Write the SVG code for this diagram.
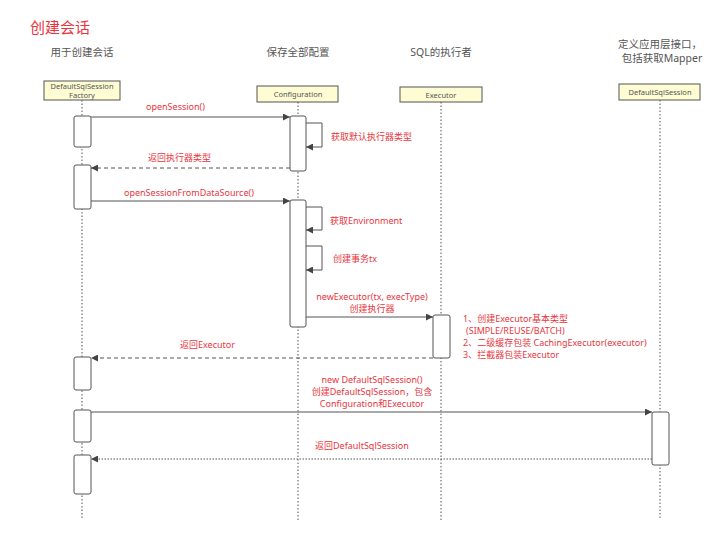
<svg xmlns="http://www.w3.org/2000/svg" width="720" height="539" viewBox="0 0 720 539">
<defs>
<style>
.bg{fill:#ffffff}
.title{font-family:"Noto Sans","Noto Sans CJK SC",sans-serif;font-size:15px;fill:#e8353d}
.role{font-family:"Noto Sans","Noto Sans CJK SC",sans-serif;font-size:10.5px;fill:#555}
.head{fill:#fdfcd2;stroke:#555;stroke-width:1}
.htext{font-family:"Noto Sans","Noto Sans CJK SC",sans-serif;font-size:7.5px;fill:#555;text-anchor:middle}
.life{stroke:#555;stroke-width:1;stroke-dasharray:1.5,2;fill:none}
.act{fill:#fff;stroke:#555;stroke-width:1}
.msg{stroke:#555;stroke-width:1;fill:none;marker-end:url(#ah)}
.dash{stroke:#555;stroke-width:1;fill:none;stroke-dasharray:4,3;marker-end:url(#ah)}
.dot{stroke:#555;stroke-width:1;fill:none;stroke-dasharray:1.5,1.5;marker-end:url(#ah)}
.lbl{font-family:"Noto Sans","Noto Sans CJK SC",sans-serif;font-size:9px;fill:#e8353d}
.c{text-anchor:middle}
</style>
<marker id="ah" viewBox="0 0 10 10" refX="10" refY="5" markerWidth="9" markerHeight="7" markerUnits="userSpaceOnUse" orient="auto">
<path d="M0,0 L10,5 L0,10 z" fill="#444"/>
</marker>
</defs>
<rect class="bg" x="0" y="0" width="720" height="539"/>
<text class="title" x="30" y="33">创建会话</text>
<text class="role c" x="82" y="56">用于创建会话</text>
<text class="role c" x="298" y="56">保存全部配置</text>
<text class="role c" x="441" y="56">SQL的执行者</text>
<text class="role c" x="660" y="48">定义应用层接口，</text>
<text class="role c" x="662" y="62">包括获取Mapper</text>

<g id="lifelines">
<line class="life" x1="82" y1="100" x2="82" y2="520"/>
<line class="life" x1="298" y1="102" x2="298" y2="520"/>
<line class="life" x1="441" y1="102" x2="441" y2="520"/>
<line class="life" x1="660" y1="100" x2="660" y2="520"/>
</g>

<g id="factory">
<rect class="head" x="44" y="81" width="76" height="19"/>
<text class="htext" x="82" y="89">DefaultSqlSession</text>
<text class="htext" x="82" y="98">Factory</text>
<rect class="act" x="74" y="116" width="17" height="31" rx="2"/>
<rect class="act" x="74" y="165" width="17" height="44" rx="2"/>
<rect class="act" x="74" y="357" width="17" height="33" rx="2"/>
<rect class="act" x="74" y="410" width="17" height="32" rx="2"/>
<rect class="act" x="74" y="455" width="17" height="39" rx="2"/>
</g>

<g id="configuration">
<rect class="head" x="257" y="86" width="81" height="16"/>
<text class="htext" x="298" y="97">Configuration</text>
<rect class="act" x="290" y="116" width="16" height="55" rx="2"/>
<rect class="act" x="290" y="200" width="16" height="127" rx="2"/>
</g>

<g id="executor">
<rect class="head" x="400" y="87" width="82" height="15"/>
<text class="htext" x="441" y="97.5">Executor</text>
<rect class="act" x="433" y="315" width="17" height="43" rx="2"/>
</g>

<g id="defaultsqlsession">
<rect class="head" x="619" y="84" width="81" height="16"/>
<text class="htext" x="660" y="94.5">DefaultSqlSession</text>
<rect class="act" x="652" y="412" width="17" height="53" rx="2"/>
</g>

<g id="connectors">
<line class="msg" x1="91" y1="117" x2="290" y2="117"/>
<polyline class="msg" points="306,123 322,123 322,147 306,147"/>
<line class="dash" x1="290" y1="168" x2="91" y2="168"/>
<line class="msg" x1="91" y1="201" x2="290" y2="201"/>
<polyline class="msg" points="306,207 322,207 322,230 306,230"/>
<polyline class="msg" points="306,246 322,246 322,270 306,270"/>
<line class="msg" x1="306" y1="317" x2="433" y2="317"/>
<line class="dash" x1="433" y1="358" x2="91" y2="358"/>
<line class="msg" x1="91" y1="412" x2="652" y2="412"/>
<line class="dot" x1="652" y1="459" x2="91" y2="459"/>
</g>

<g id="labels">
<text class="lbl" x="146" y="110">openSession()</text>
<text class="lbl" x="331" y="140">获取默认执行器类型</text>
<text class="lbl" x="148" y="161">返回执行器类型</text>
<text class="lbl" x="124" y="196">openSessionFromDataSource()</text>
<text class="lbl" x="330" y="224">获取Environment</text>
<text class="lbl" x="333" y="262">创建事务tx</text>
<text class="lbl c" x="372" y="300">newExecutor(tx, execType)</text>
<text class="lbl c" x="372" y="312">创建执行器</text>
<text class="lbl" x="463" y="322">1、创建Executor基本类型</text>
<text class="lbl" x="466" y="334">(SIMPLE/REUSE/BATCH)</text>
<text class="lbl" x="463" y="346">2、二级缓存包装 CachingExecutor(executor)</text>
<text class="lbl" x="463" y="358">3、拦截器包装Executor</text>
<text class="lbl" x="180" y="348">返回Executor</text>
<text class="lbl c" x="372" y="383">new DefaultSqlSession()</text>
<text class="lbl c" x="372" y="395">创建DefaultSqlSession，包含</text>
<text class="lbl c" x="372" y="407">Configuration和Executor</text>
<text class="lbl" x="315" y="449">返回DefaultSqlSession</text>
</g>
</svg>
